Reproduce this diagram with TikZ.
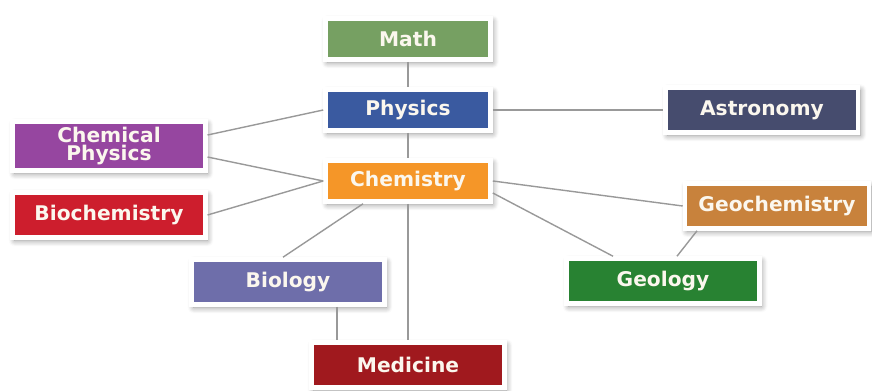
\documentclass[tikz,border=0pt]{standalone}
\usepackage{fontspec}
\setsansfont{DejaVu Sans}
\usetikzlibrary{shadows.blur}

\definecolor{mathgreen}{HTML}{76A062}
\definecolor{physblue}{HTML}{3A5AA0}
\definecolor{astroblue}{HTML}{464C6E}
\definecolor{cphyspurple}{HTML}{9646A0}
\definecolor{biochemred}{HTML}{CD1E2D}
\definecolor{chemorange}{HTML}{F59628}
\definecolor{geochemochre}{HTML}{C8823C}
\definecolor{geolgreen}{HTML}{288232}
\definecolor{biolavender}{HTML}{6E6EAA}
\definecolor{medred}{HTML}{A0191E}
\definecolor{textwhite}{HTML}{FBF7EE}

\begin{document}
\begin{tikzpicture}[x=0.02cm, y=-0.02cm, node distance=1.42cm,
                    main node/.style={rectangle,draw=white,line width=2.6pt,
                      minimum width=3.3cm,minimum height=0.82cm,align=center,
                      text=textwhite,font=\sffamily\bfseries\fontsize{11.5}{10}\selectfont,
                      blur shadow={shadow xshift=1.2pt,shadow yshift=-1.6pt,
                        shadow blur radius=3.5pt,shadow blur steps=8,shadow opacity=45}},
                    wide node/.style={main node,minimum width=3.85cm,minimum height=0.9cm},
                    link/.style={draw=gray!80,line width=0.8pt}]

	\useasboundingbox (0,0) rectangle (872,390);

	\node[main node,fill=mathgreen] (math) at (408,39) {Math};
	\node[main node,fill=physblue] (physics) [below of=math] {Physics};
	\node[main node,fill=chemorange] (chemistry) [below of=physics] {Chemistry};
	\node[wide node,fill=medred] (medicine) [below of=chemistry, node distance=3.68cm] {Medicine};

	\node[wide node,fill=astroblue] (astronomy) [right of=physics, node distance=7.08cm] {Astronomy};
	\node[wide node,fill=cphyspurple] (cphysics) at (109,146) {Chemical\\Physics};
	\node[wide node,fill=biochemred] (biochem) [below of=cphysics, node distance=1.38cm] {Biochemistry};

	\node[wide node,fill=biolavender] (biology) at (288,282) {Biology};
	\node[wide node,fill=geolgreen] (geology) at (663,281) {Geology};
	\node[wide node,minimum width=3.68cm,fill=geochemochre] (geochem) at (777,206) {Geochemistry};

	\coordinate (biomed) at ([xshift=0.98cm]biology.south);

  \path[link]
    (math) edge (physics)
    (physics) edge (chemistry)
              edge (astronomy)
    ([yshift=0.22cm]cphysics.east) edge (physics.west)
    ([yshift=-0.22cm]cphysics.east) edge (chemistry.west)
    (biochem.east) edge (chemistry.west)

    (chemistry) edge (medicine)
    ([xshift=-0.9cm]chemistry.south) edge ([xshift=-0.1cm]biology.north)
    (chemistry.east) edge (geochem.west)
    ([yshift=-0.24cm]chemistry.east) edge ([xshift=-1cm]geology.north)

    (biomed) edge (biomed |- medicine.north)
    ([xshift=-1.6cm]geochem.south) edge ([xshift=0.28cm]geology.north)
       ;

\end{tikzpicture}
\end{document}
